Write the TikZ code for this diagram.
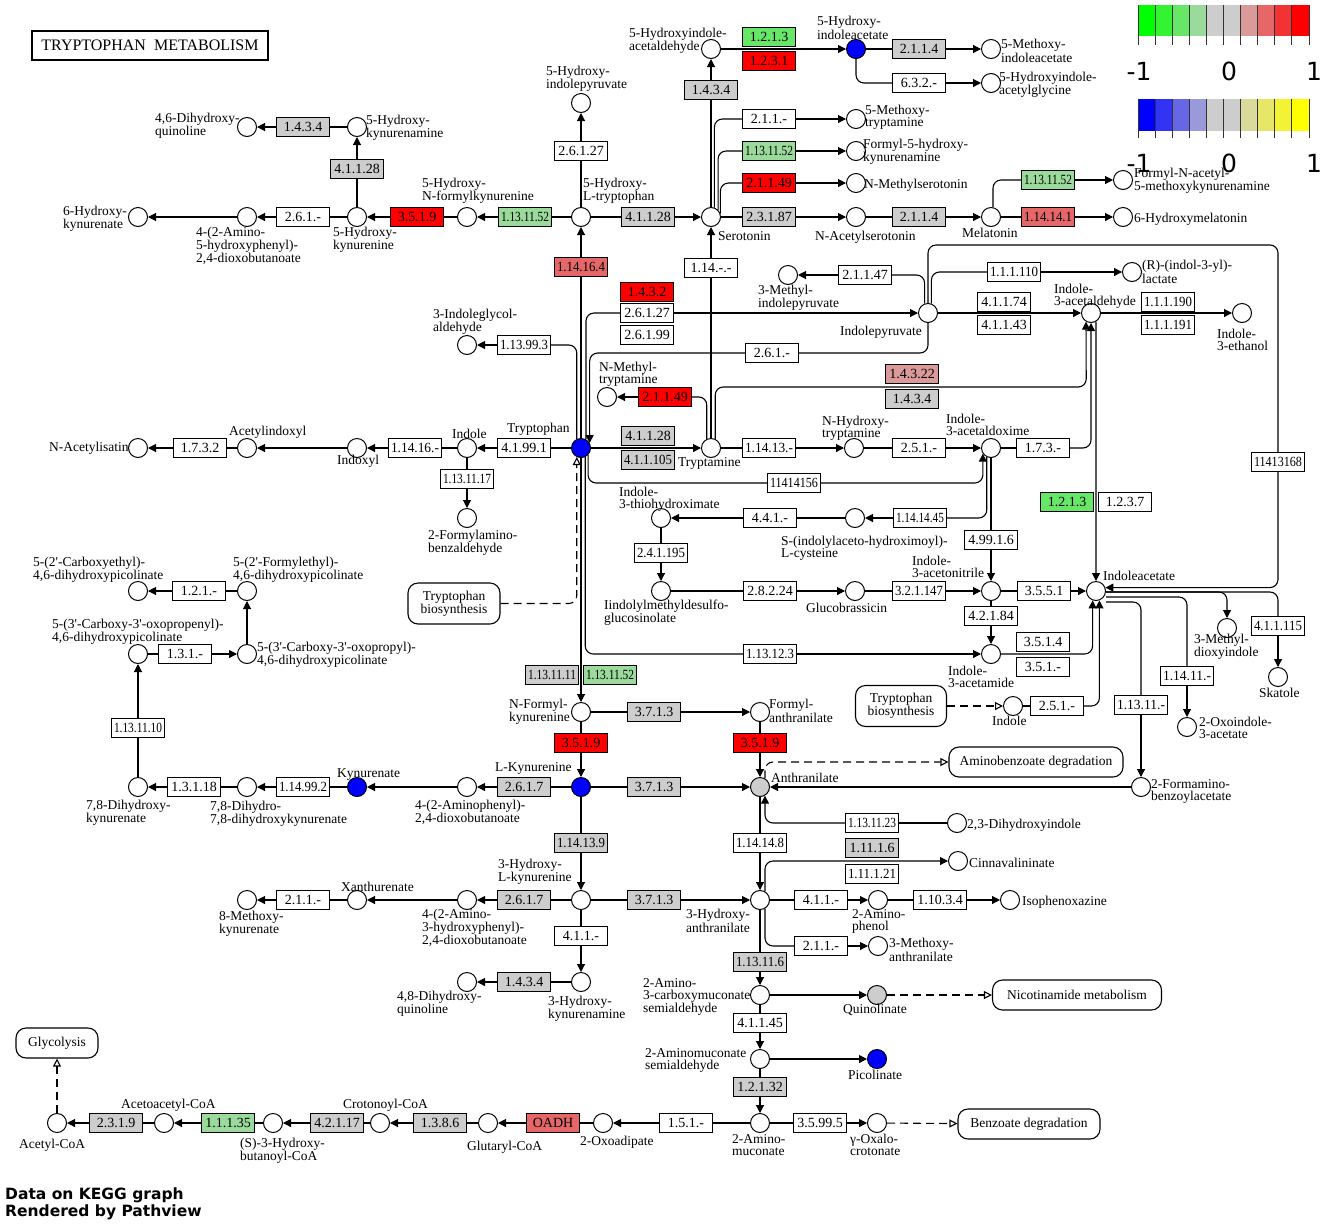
\documentclass[tikz,border=0pt]{standalone}
\usepackage{fontspec}
\setmainfont{Liberation Serif}
\newfontfamily\dejavu{DejaVu Sans}
\usepackage{graphicx}
\usetikzlibrary{arrows.meta}
\definecolor{midgray}{RGB}{205,205,205}
\definecolor{cpdblue}{RGB}{0,0,255}
\definecolor{dn4}{RGB}{0,255,0}
\definecolor{dn3}{RGB}{51,243,51}
\definecolor{dn2}{RGB}{103,230,103}
\definecolor{dn1}{RGB}{154,218,154}
\definecolor{up1}{RGB}{218,154,154}
\definecolor{up2}{RGB}{230,103,103}
\definecolor{up3}{RGB}{243,51,51}
\definecolor{up4}{RGB}{255,0,0}
\definecolor{bl4}{RGB}{0,0,255}
\definecolor{bl3}{RGB}{51,51,243}
\definecolor{bl2}{RGB}{103,103,230}
\definecolor{bl1}{RGB}{154,154,218}
\definecolor{yl1}{RGB}{218,218,154}
\definecolor{yl2}{RGB}{230,230,103}
\definecolor{yl3}{RGB}{243,243,51}
\definecolor{yl4}{RGB}{255,255,0}
\newsavebox\ecbox
\newcommand\ecfit{\ifdim\wd\ecbox>48pt\resizebox{48pt}{\ht\ecbox}{\usebox\ecbox}\else\usebox\ecbox\fi}
\newcommand\lbfont{\fontsize{13.5}{12}\selectfont}
\newcommand\ecfont{\fontsize{14}{14}\selectfont}
\newcommand\lgfont{\dejavu\fontsize{25}{25}\selectfont}
\newcommand\ftfont{\dejavu\bfseries\fontsize{15.5}{17.5}\selectfont}
\newcommand\pr{\textquotesingle}

\begin{document}
\begin{tikzpicture}[x=1pt, y=-1pt, >={Triangle[length=8pt, width=8pt]},
    cpd/.style={circle, draw, line width=1pt, fill=white, minimum size=19pt, inner sep=0pt},
    cpdb/.style={cpd, fill=cpdblue},
    cpdg/.style={cpd, fill=midgray},
    ec/.style={draw, line width=1.1pt, fill=white, minimum width=53pt, minimum height=19pt, inner sep=0pt, font=\ecfont,
      execute at begin node={\setbox\ecbox\hbox\bgroup}, execute at end node={\egroup\ecfit}},
    ecgr/.style={ec, fill=midgray},
    ecr/.style={ec, fill=up4},
    ecmr/.style={ec, fill=up2},
    ecpr/.style={ec, fill=up1},
    ecgn/.style={ec, fill=dn2},
    ecpg/.style={ec, fill=dn1},
    lab/.style={font=\lbfont, align=left, inner sep=0pt, anchor=west},
    mapbox/.style={draw, line width=1.1pt, rounded corners=10pt, font=\lbfont, align=center, inner sep=0pt},
    rxn/.style={line width=1.1pt},
    arr/.style={line width=1.1pt, ->},
    link/.style={line width=1.1pt, dash pattern=on 8pt off 5pt, -{Triangle[open, length=8pt, width=8pt]}},
    rc/.style={rounded corners=8pt}]
    \useasboundingbox (0,0) rectangle (1325,1227);
    \fill[white] (0,0) rectangle (1325,1227);

    % Title
    \node[draw, line width=2pt, minimum width=236pt, minimum height=29pt, inner sep=0pt, font=\fontsize{16}{16}\selectfont] (title) at (150,45.5) {TRYPTOPHAN\ \ METABOLISM};

    % Colour keys
    \foreach \c [count=\i from 0] in {dn4,dn3,dn2,dn1,midgray,midgray,up1,up2,up3,up4}
      \fill[\c] ({1138+17.1*\i},5) rectangle ++(17.1,31);
    \foreach \c [count=\i from 0] in {bl4,bl3,bl2,bl1,midgray,midgray,yl1,yl2,yl3,yl4}
      \fill[\c] ({1138+17.1*\i},99) rectangle ++(17.1,32);
    \foreach \i in {0,...,10} {
      \draw[line width=0.9pt, black!80] ({1138+17.1*\i},5) -- ++(0,40);
      \draw[line width=0.9pt, black!80] ({1138+17.1*\i},99) -- ++(0,39);
    }
    \node[font=\lgfont, inner sep=0pt] (kg1) at (1139,71) {-1};
    \node[font=\lgfont, inner sep=0pt] (kg2) at (1229,71) {0};
    \node[font=\lgfont, inner sep=0pt] (kg3) at (1314,71) {1};
    \node[font=\lgfont, inner sep=0pt] (kb1) at (1139,163) {-1};
    \node[font=\lgfont, inner sep=0pt] (kb2) at (1229,163) {0};
    \node[font=\lgfont, inner sep=0pt] (kb3) at (1314,163) {1};

    % Compounds
    \node[cpd] (dhq46) at (247,127) {};
    \node[cpd] (hkna5) at (357,127) {};
    \node[cpd] (hkyn5) at (357,217) {};
    \node[cpd] (ahpd5) at (247,217) {};
    \node[cpd] (hkya6) at (138,217) {};
    \node[cpd] (hfk5) at (467,217) {};
    \node[cpd] (htp5) at (581,217) {};
    \node[cpd] (hipy5) at (581,103) {};
    \node[cpd] (sero) at (711,217) {};
    \node[cpd] (hial5) at (711,49) {};
    \node[cpdb] (hiaa5) at (856,49) {};
    \node[cpd] (mia5) at (991,49) {};
    \node[cpd] (hiag5) at (991,83) {};
    \node[cpd] (mtryp5) at (856,119) {};
    \node[cpd] (fhkn) at (856,151) {};
    \node[cpd] (nmsero) at (856,183) {};
    \node[cpd] (nasero) at (856,217) {};
    \node[cpd] (mela) at (991,217) {};
    \node[cpd] (fnak) at (1123,180) {};
    \node[cpd] (hmela6) at (1123,217) {};
    \node[cpd] (mipy3) at (788,275) {};
    \node[cpd] (ipyr) at (928,313) {};
    \node[cpd] (ilac) at (1132,272) {};
    \node[cpd] (iald) at (1091,313) {};
    \node[cpd] (ieth) at (1242,313) {};
    \node[cpd] (iga) at (467,345) {};
    \node[cpd] (nmtam) at (607,397) {};
    \node[cpdb] (trp) at (581,448) {};
    \node[cpd] (indol) at (467,448) {};
    \node[cpd] (indox) at (357,448) {};
    \node[cpd] (acind) at (247,448) {};
    \node[cpd] (nais) at (138,448) {};
    \node[cpd] (fab2) at (467,518) {};
    \node[cpd] (tam) at (711,448) {};
    \node[cpd] (nht) at (854,448) {};
    \node[cpd] (iaox) at (991,448) {};
    \node[cpd] (tha) at (661,518) {};
    \node[cpd] (scys) at (855,518) {};
    \node[cpd] (idsg) at (661,591) {};
    \node[cpd] (gbr) at (855,591) {};
    \node[cpd] (iacn) at (991,591) {};
    \node[cpd] (iaa) at (1096,591) {};
    \node[cpd] (iam) at (991,654) {};
    \node[cpd] (mdi3) at (1227,628) {};
    \node[cpd] (ska) at (1278,677) {};
    \node[cpd] (oxi2) at (1187,727) {};
    \node[cpd] (indol2) at (1013,706) {};
    \node[cpd] (fba2) at (1141,787) {};
    \node[cpd] (nfk) at (581,712) {};
    \node[cpd] (fan) at (760,712) {};
    \node[cpdb] (lkyn) at (581,787) {};
    \node[cpdg] (anth) at (760,787) {};
    \node[cpd] (apd) at (467,787) {};
    \node[cpdb] (kyna) at (357,787) {};
    \node[cpd] (dhdk) at (247,787) {};
    \node[cpd] (dhk78) at (138,787) {};
    \node[cpd] (cop) at (138,654) {};
    \node[cpd] (copr) at (247,654) {};
    \node[cpd] (fed) at (247,591) {};
    \node[cpd] (ced) at (138,591) {};
    \node[cpd] (hk3) at (581,900) {};
    \node[cpd] (ahd3) at (467,900) {};
    \node[cpd] (xan) at (357,900) {};
    \node[cpd] (mk8) at (247,900) {};
    \node[cpd] (haa3) at (760,900) {};
    \node[cpd] (hkna3) at (581,982) {};
    \node[cpd] (dhq48) at (467,982) {};
    \node[cpd] (dhi23) at (957,823) {};
    \node[cpd] (cinn) at (958,861) {};
    \node[cpd] (amph) at (878,900) {};
    \node[cpd] (isoph) at (1010,900) {};
    \node[cpd] (mant3) at (878,946) {};
    \node[cpd] (acms) at (760,995) {};
    \node[cpdg] (quin) at (877,995) {};
    \node[cpd] (ams) at (760,1059) {};
    \node[cpdb] (pico) at (877,1059) {};
    \node[cpd] (am2) at (760,1123) {};
    \node[cpd] (oxc) at (877,1123) {};
    \node[cpd] (oxad) at (603,1123) {};
    \node[cpd] (glut) at (488,1123) {};
    \node[cpd] (crot) at (380,1123) {};
    \node[cpd] (hbut) at (273,1123) {};
    \node[cpd] (aacoa) at (164,1123) {};
    \node[cpd] (acoa) at (57,1123) {};

    % Enzymes
    \node[ecgr] (e1) at (303,127) {1.4.3.4};
    \node[ecgr] (e2) at (357,169) {4.1.1.28};
    \node[ec] (e3) at (303,217) {2.6.1.-};
    \node[ecr] (e4) at (417,217) {3.5.1.9};
    \node[ecpg] (e5) at (525,217) {1.13.11.52};
    \node[ec] (e6) at (581,151) {2.6.1.27};
    \node[ecmr] (e7) at (581,267) {1.14.16.4};
    \node[ecgr] (e8) at (648,217) {4.1.1.28};
    \node[ecgr] (e9) at (711,90) {1.4.3.4};
    \node[ecgn] (e10) at (769,37) {1.2.1.3};
    \node[ecr] (e11) at (769,61) {1.2.3.1};
    \node[ecgr] (e12) at (919,49) {2.1.1.4};
    \node[ec] (e13) at (919,83) {6.3.2.-};
    \node[ec] (e14) at (769,119) {2.1.1.-};
    \node[ecpg] (e15) at (769,151) {1.13.11.52};
    \node[ecr] (e16) at (769,183) {2.1.1.49};
    \node[ecgr] (e17) at (769,217) {2.3.1.87};
    \node[ec] (e18) at (711,268) {1.14.-.-};
    \node[ecgr] (e19) at (919,217) {2.1.1.4};
    \node[ecpg] (e20) at (1048,180) {1.13.11.52};
    \node[ecmr] (e21) at (1048,217) {1.14.14.1};
    \node[ec] (e22) at (865,275) {2.1.1.47};
    \node[ec] (e23) at (1014,272) {1.1.1.110};
    \node[ec] (e24) at (1004,302) {4.1.1.74};
    \node[ec] (e25) at (1004,325) {4.1.1.43};
    \node[ec] (e26) at (1168,302) {1.1.1.190};
    \node[ec] (e27) at (1168,325) {1.1.1.191};
    \node[ecr] (e28) at (647,292) {1.4.3.2};
    \node[ec] (e29) at (647,313) {2.6.1.27};
    \node[ec] (e30) at (647,335) {2.6.1.99};
    \node[ec] (e31) at (524,345) {1.13.99.3};
    \node[ec] (e32) at (772,353) {2.6.1.-};
    \node[ecr] (e33) at (665,397) {2.1.1.49};
    \node[ecpr] (e34) at (912,374) {1.4.3.22};
    \node[ecgr] (e35) at (912,399) {1.4.3.4};
    \node[ec] (e36) at (524,448) {4.1.99.1};
    \node[ec] (e37) at (415,448) {1.14.16.-};
    \node[ec] (e38) at (200,448) {1.7.3.2};
    \node[ec] (e39) at (467,479) {1.13.11.17};
    \node[ecgr] (e40) at (648,436) {4.1.1.28};
    \node[ecgr] (e41) at (648,460) {4.1.1.105};
    \node[ec] (e42) at (769,448) {1.14.13.-};
    \node[ec] (e43) at (919,448) {2.5.1.-};
    \node[ec] (e44) at (1043,448) {1.7.3.-};
    \node[ec] (e45) at (794,483) {11414156};
    \node[ec] (e46) at (1278,462) {11413168};
    \node[ecgn] (e47) at (1067,502) {1.2.1.3};
    \node[ec] (e48) at (1125,502) {1.2.3.7};
    \node[ec] (e49) at (770,518) {4.4.1.-};
    \node[ec] (e50) at (920,518) {1.14.14.45};
    \node[ec] (e51) at (991,540) {4.99.1.6};
    \node[ec] (e52) at (661,553) {2.4.1.195};
    \node[ec] (e53) at (770,591) {2.8.2.24};
    \node[ec] (e54) at (919,591) {3.2.1.147};
    \node[ec] (e55) at (1044,591) {3.5.5.1};
    \node[ec] (e56) at (991,616) {4.2.1.84};
    \node[ec] (e57) at (1043,642) {3.5.1.4};
    \node[ec] (e58) at (1043,667) {3.5.1.-};
    \node[ec] (e59) at (770,654) {1.13.12.3};
    \node[ec] (e60) at (1057,706) {2.5.1.-};
    \node[ec] (e61) at (1278,626) {4.1.1.115};
    \node[ec] (e62) at (1187,676) {1.14.11.-};
    \node[ec] (e63) at (1141,705) {1.13.11.-};
    \node[ecgr] (e64) at (552,675) {1.13.11.11};
    \node[ecpg] (e65) at (610,675) {1.13.11.52};
    \node[ecgr] (e66) at (654,712) {3.7.1.3};
    \node[ecr] (e67) at (581,743) {3.5.1.9};
    \node[ecr] (e68) at (760,743) {3.5.1.9};
    \node[ecgr] (e69) at (654,787) {3.7.1.3};
    \node[ecgr] (e70) at (524,787) {2.6.1.7};
    \node[ec] (e71) at (303,787) {1.14.99.2};
    \node[ec] (e72) at (194,787) {1.3.1.18};
    \node[ec] (e73) at (138,728) {1.13.11.10};
    \node[ec] (e74) at (185,654) {1.3.1.-};
    \node[ec] (e75) at (199,591) {1.2.1.-};
    \node[ecgr] (e76) at (581,843) {1.14.13.9};
    \node[ecgr] (e77) at (524,900) {2.6.1.7};
    \node[ec] (e78) at (303,900) {2.1.1.-};
    \node[ecgr] (e79) at (654,900) {3.7.1.3};
    \node[ec] (e80) at (581,936) {4.1.1.-};
    \node[ecgr] (e81) at (524,982) {1.4.3.4};
    \node[ec] (e82) at (760,843) {1.14.14.8};
    \node[ec] (e83) at (872,823) {1.13.11.23};
    \node[ecgr] (e84) at (872,848) {1.11.1.6};
    \node[ec] (e85) at (872,874) {1.11.1.21};
    \node[ec] (e86) at (821,900) {4.1.1.-};
    \node[ec] (e87) at (940,900) {1.10.3.4};
    \node[ec] (e88) at (821,946) {2.1.1.-};
    \node[ecgr] (e89) at (760,962) {1.13.11.6};
    \node[ec] (e90) at (760,1023) {4.1.1.45};
    \node[ecgr] (e91) at (760,1087) {1.2.1.32};
    \node[ec] (e92) at (820,1123) {3.5.99.5};
    \node[ec] (e93) at (686,1123) {1.5.1.-};
    \node[ecmr] (e94) at (553,1123) {OADH};
    \node[ecgr] (e95) at (440,1123) {1.3.8.6};
    \node[ecgr] (e96) at (337,1123) {4.2.1.17};
    \node[ecpg] (e97) at (228,1123) {1.1.1.35};
    \node[ecgr] (e98) at (116,1123) {2.3.1.9};

    % Other maps
    \node[mapbox, minimum width=92pt, minimum height=41pt] (tbio1) at (454,603.5) {Tryptophan\\biosynthesis};
    \node[mapbox, minimum width=91pt, minimum height=41pt] (tbio2) at (901,706) {Tryptophan\\biosynthesis};
    \node[mapbox, minimum width=174pt, minimum height=30pt] (abdeg) at (1036,762) {Aminobenzoate degradation};
    \node[mapbox, minimum width=169pt, minimum height=30pt] (nicm) at (1077,995) {Nicotinamide metabolism};
    \node[mapbox, minimum width=142pt, minimum height=30pt] (bzdeg) at (1029,1124) {Benzoate degradation};
    \node[mapbox, minimum width=82pt, minimum height=30pt] (glyc) at (57,1043) {Glycolysis};

    \coordinate (lp) at (1278,245);
    \coordinate (k1) at (1086.25,387);

    % 5-hydroxykynurenine side
    \draw[rxn] (hkna5) -- (e1); \draw[arr] (e1) -- (dhq46);
    \draw[rxn] (hkyn5) -- (e2); \draw[arr] (e2) -- (hkna5);
    \draw[rxn] (hkyn5) -- (e3); \draw[arr] (e3) -- (ahpd5);
    \draw[arr] (ahpd5) -- (hkya6);
    \draw[rxn] (hfk5) -- (e4); \draw[arr] (e4) -- (hkyn5);
    \draw[rxn] (htp5) -- (e5); \draw[arr] (e5) -- (hfk5);
    \draw[rxn] (htp5) -- (e6); \draw[arr] (e6) -- (hipy5);
    \draw[rxn] (trp) -- (e7); \draw[arr] (e7) -- (htp5);
    \draw[rxn] (htp5) -- (e8); \draw[arr] (e8) -- (sero);

    % Serotonin, melatonin
    \draw[rxn] (sero) -- (e9); \draw[arr] (e9) -- (hial5);
    \draw[arr] (hial5) -- (hiaa5);
    \draw[rxn] (hiaa5) -- (e12); \draw[arr] (e12) -- (mia5);
    \draw[rxn, rc] (hiaa5.south) |- (e13.west); \draw[arr] (e13) -- (hiag5);
    \draw[rxn, rc] (sero.70) |- (e14.west); \draw[arr] (e14) -- (mtryp5);
    \draw[rxn, rc] (sero.45) |- (e15.west); \draw[arr] (e15) -- (fhkn);
    \draw[rxn, rc] (sero.20) |- (e16.west); \draw[arr] (e16) -- (nmsero);
    \draw[rxn] (sero) -- (e17); \draw[arr] (e17) -- (nasero);
    \draw[rxn] (tam) -- (e18); \draw[arr] (e18) -- (sero);
    \draw[rxn] (nasero) -- (e19); \draw[arr] (e19) -- (mela);
    \draw[rxn, rc] ([xshift=2pt]mela.north) |- (e20.west); \draw[arr] (e20) -- (fnak);
    \draw[rxn] (mela) -- (e21); \draw[arr] (e21) -- (hmela6);

    % Indolepyruvate
    \draw[rxn, rc] (ipyr.110) |- (e22.east); \draw[arr] (e22) -- (mipy3);
    \draw[rxn, rc] (ipyr.70) |- (e23.west); \draw[arr] (e23) -- (ilac);
    \draw[rxn, rc] (ipyr.north) |- (lp) -- (e46.north);
    \draw[arr, rc] (e46.south) |- (iaa.20);
    \draw[arr] (ipyr) -- (iald);
    \draw[arr] (iald) -- (ieth);
    \draw[rxn, rc] (trp.60) |- (e29.west); \draw[arr] (e29) -- (ipyr);
    \draw[rxn, rc] (ipyr.south) |- (e32.east); \draw[arr, rc] (e32.west) -| (trp.30);
    \draw[rxn, rc] (trp.115) |- (e31.east); \draw[arr] (e31) -- (iga);

    % Tryptamine
    \draw[arr] (trp) -- (tam);
    \draw[rxn, rc] (tam.115) |- (e33.east); \draw[arr] (e33) -- (nmtam);
    \draw[arr, rc] (tam.65) |- (k1) -- (iald.-120);
    \draw[rxn] (tam) -- (e42); \draw[arr] (e42) -- (nht);
    \draw[rxn] (nht) -- (e43); \draw[arr] (e43) -- (iaox);
    \draw[rxn] (iaox) -- (e44); \draw[arr, rc] (e44.east) -| (iald.south);
    \draw[arr] (iald.-60) -- (iaa.north);

    % Indole
    \draw[rxn] (trp) -- (e36); \draw[arr] (e36) -- (indol);
    \draw[rxn] (indol) -- (e37); \draw[arr] (e37) -- (indox);
    \draw[arr] (indox) -- (acind);
    \draw[rxn] (acind) -- (e38); \draw[arr] (e38) -- (nais);
    \draw[rxn] (indol) -- (e39); \draw[arr] (e39) -- (fab2);
    \draw[link, rc] (tbio1.east) -| (trp.245);

    % Acetaldoxime, glucosinolates, indoleacetate
    \draw[rxn, rc] (trp.315) |- (e45.west); \draw[arr, rc] (e45.east) -| (iaox.215);
    \draw[rxn, rc] (iaox.245) |- (e50.east); \draw[arr] (e50) -- (scys);
    \draw[rxn] (scys) -- (e49); \draw[arr] (e49) -- (tha);
    \draw[rxn] (tha) -- (e52); \draw[arr] (e52) -- (idsg);
    \draw[rxn] (idsg) -- (e53); \draw[arr] (e53) -- (gbr);
    \draw[rxn] (gbr) -- (e54); \draw[arr] (e54) -- (iacn);
    \draw[rxn] (iaox) -- (e51); \draw[arr] (e51) -- (iacn);
    \draw[rxn] (iacn) -- (e55); \draw[arr] (e55) -- (iaa);
    \draw[rxn] (iacn) -- (e56); \draw[arr] (e56) -- (iam);
    \draw[rxn, rc] (trp.295) |- (e59.west); \draw[arr] (e59) -- (iam);
    \draw[arr, rc] (iam.east) -| (iaa.-110);
    \draw[link] (tbio2) -- (indol2);
    \draw[rxn] (indol2) -- (e60); \draw[arr, rc] (e60.east) -| (iaa.-70);
    \draw[rxn, rc] ([yshift=-1pt]iaa.east) -| (e61.north); \draw[arr] (e61) -- (ska);
    \draw[arr, rc] ([yshift=-1pt]iaa.east) -| (mdi3.north);
    \draw[rxn, rc] ([yshift=-6pt]iaa.east) -| (e62.north); \draw[arr] (e62) -- (oxi2);
    \draw[rxn, rc] ([yshift=-11pt]iaa.east) -| (e63.north); \draw[arr] (e63) -- (fba2);
    \draw[arr] (fba2) -- (anth);
    \draw[link, rc] (anth.60) |- (abdeg.west);

    % Kynurenine
    \draw[arr] (trp) -- (nfk);
    \draw[rxn] (nfk) -- (e66); \draw[arr] (e66) -- (fan);
    \draw[rxn] (nfk) -- (e67); \draw[arr] (e67) -- (lkyn);
    \draw[rxn] (fan) -- (e68); \draw[arr] (e68) -- (anth);
    \draw[rxn] (lkyn) -- (e69); \draw[arr] (e69) -- (anth);
    \draw[rxn] (lkyn) -- (e70); \draw[arr] (e70) -- (apd);
    \draw[arr] (apd) -- (kyna);
    \draw[rxn] (kyna) -- (e71); \draw[arr] (e71) -- (dhdk);
    \draw[rxn] (dhdk) -- (e72); \draw[arr] (e72) -- (dhk78);
    \draw[rxn] (dhk78) -- (e73); \draw[arr] (e73) -- (cop);
    \draw[rxn] (cop) -- (e74); \draw[arr] (e74) -- (copr);
    \draw[arr] (copr) -- (fed);
    \draw[rxn] (fed) -- (e75); \draw[arr] (e75) -- (ced);
    \draw[rxn] (lkyn) -- (e76); \draw[arr] (e76) -- (hk3);
    \draw[rxn] (hk3) -- (e77); \draw[arr] (e77) -- (ahd3);
    \draw[arr] (ahd3) -- (xan);
    \draw[rxn] (xan) -- (e78); \draw[arr] (e78) -- (mk8);
    \draw[rxn] (hk3) -- (e79); \draw[arr] (e79) -- (haa3);
    \draw[rxn] (hk3) -- (e80); \draw[arr] (e80) -- (hkna3);
    \draw[rxn] (hkna3) -- (e81); \draw[arr] (e81) -- (dhq48);

    % Anthranilate, 3-hydroxyanthranilate
    \draw[rxn] (anth) -- (e82); \draw[arr] (e82) -- (haa3);
    \draw[rxn] (dhi23) -- (e83); \draw[arr, rc] (e83.west) -| (anth.-60);
    \draw[arr, rc] (haa3.60) |- (cinn.west);
    \draw[rxn] (haa3) -- (e86); \draw[arr] (e86) -- (amph);
    \draw[rxn] (amph) -- (e87); \draw[arr] (e87) -- (isoph);
    \draw[rxn, rc] (haa3.-60) |- (e88.west); \draw[arr] (e88) -- (mant3);
    \draw[rxn] (haa3) -- (e89); \draw[arr] (e89) -- (acms);
    \draw[arr] (acms) -- (quin);
    \draw[link] (quin) -- (nicm);
    \draw[rxn] (acms) -- (e90); \draw[arr] (e90) -- (ams);
    \draw[arr] (ams) -- (pico);
    \draw[rxn] (ams) -- (e91); \draw[arr] (e91) -- (am2);
    \draw[rxn] (am2) -- (e92); \draw[arr] (e92) -- (oxc);
    \draw[link] (oxc) -- (bzdeg);

    % Glutaryl-CoA to acetyl-CoA
    \draw[rxn] (am2) -- (e93); \draw[arr] (e93) -- (oxad);
    \draw[rxn] (oxad) -- (e94); \draw[arr] (e94) -- (glut);
    \draw[rxn] (glut) -- (e95); \draw[arr] (e95) -- (crot);
    \draw[rxn] (crot) -- (e96); \draw[arr] (e96) -- (hbut);
    \draw[rxn] (hbut) -- (e97); \draw[arr] (e97) -- (aacoa);
    \draw[rxn] (aacoa) -- (e98); \draw[arr] (e98) -- (acoa);
    \draw[link] (acoa) -- (glyc);

    % Compound names
    \node[lab] (l-dhq46) at (155,126) {4,6-Dihydroxy-\\quinoline};
    \node[lab] (l-hkna5) at (366,128) {5-Hydroxy-\\kynurenamine};
    \node[lab] (l-hkya6) at (63,219) {6-Hydroxy-\\kynurenate};
    \node[lab] (l-ahpd5) at (196,246) {4-(2-Amino-\\5-hydroxyphenyl)-\\2,4-dioxobutanoate};
    \node[lab] (l-hkyn5) at (333,240) {5-Hydroxy-\\kynurenine};
    \node[lab] (l-hfk5) at (422,191) {5-Hydroxy-\\N-formylkynurenine};
    \node[lab] (l-htp5) at (583,191) {5-Hydroxy-\\L-tryptophan};
    \node[lab] (l-hipy5) at (546,79) {5-Hydroxy-\\indolepyruvate};
    \node[lab] (l-hial5) at (629,41) {5-Hydroxyindole-\\acetaldehyde};
    \node[lab] (l-hiaa5) at (817,28) {5-Hydroxy-\\indoleacetate};
    \node[lab] (l-sero) at (718,236) {Serotonin};
    \node[lab] (l-iga) at (433,322) {3-Indoleglycol-\\aldehyde};
    \node[lab] (l-nmtam) at (599,374) {N-Methyl-\\tryptamine};
    \node[lab] (l-mipy3) at (758,298) {3-Methyl-\\indolepyruvate};
    \node[lab] (l-ipyr) at (840,332) {Indolepyruvate};
    \node[lab] (l-mia5) at (1001,51) {5-Methoxy-\\indoleacetate};
    \node[lab] (l-hiag5) at (999,85) {5-Hydroxyindole-\\acetylglycine};
    \node[lab] (l-mtryp5) at (865,117) {5-Methoxy-\\tryptamine};
    \node[lab] (l-fhkn) at (863,152) {Formyl-5-hydroxy-\\kynurenamine};
    \node[lab] (l-nmsero) at (864,185) {N-Methylserotonin};
    \node[lab] (l-nasero) at (815,237) {N-Acetylserotonin};
    \node[lab] (l-mela) at (962,233) {Melatonin};
    \node[lab] (l-fnak) at (1134,181) {Formyl-N-acetyl-\\5-methoxykynurenamine};
    \node[lab] (l-hmela6) at (1134,219) {6-Hydroxymelatonin};
    \node[lab] (l-ilac) at (1142,272) {(R)-(indol-3-yl)-\\lactate};
    \node[lab] (l-iald) at (1054,296) {Indole-\\3-acetaldehyde};
    \node[lab] (l-ieth) at (1217,340) {Indole-\\3-ethanol};
    \node[lab] (l-nais) at (49,448) {N-Acetylisatin};
    \node[lab] (l-acind) at (229,432) {Acetylindoxyl};
    \node[lab] (l-indox) at (337,461) {Indoxyl};
    \node[lab] (l-ced) at (33,570) {5-(2\pr-Carboxyethyl)-\\4,6-dihydroxypicolinate};
    \node[lab] (l-fed) at (233,570) {5-(2\pr-Formylethyl)-\\4,6-dihydroxypicolinate};
    \node[lab] (l-cop) at (52,632) {5-(3\pr-Carboxy-3\pr-oxopropenyl)-\\4,6-dihydroxypicolinate};
    \node[lab] (l-copr) at (257,655) {5-(3\pr-Carboxy-3\pr-oxopropyl)-\\4,6-dihydroxypicolinate};
    \node[lab] (l-kyna) at (337,775) {Kynurenate};
    \node[lab] (l-dhk78) at (86,813) {7,8-Dihydroxy-\\kynurenate};
    \node[lab] (l-dhdk) at (210,814) {7,8-Dihydro-\\7,8-dihydroxykynurenate};
    \node[lab] (l-trp) at (507,429) {Tryptophan};
    \node[lab] (l-indol) at (452,434) {Indole};
    \node[lab] (l-fab2) at (428,543) {2-Formylamino-\\benzaldehyde};
    \node[lab] (l-tam) at (678,463) {Tryptamine};
    \node[lab] (l-tha) at (619,499) {Indole-\\3-thiohydroximate};
    \node[lab] (l-idsg) at (604,613) {Iindolylmethyldesulfo-\\glucosinolate};
    \node[lab] (l-nfk) at (509,712) {N-Formyl-\\kynurenine};
    \node[lab] (l-fan) at (769,711) {Formyl-\\anthranilate};
    \node[lab] (l-lkyn) at (495,768) {L-Kynurenine};
    \node[lab] (l-anth) at (771,778) {Anthranilate};
    \node[lab] (l-apd) at (415,812) {4-(2-Aminophenyl)-\\2,4-dioxobutanoate};
    \node[lab] (l-nht) at (822,428) {N-Hydroxy-\\tryptamine};
    \node[lab] (l-iaox) at (946,425) {Indole-\\3-acetaldoxime};
    \node[lab] (l-scys) at (781,548) {S-(indolylaceto-hydroximoyl)-\\L-cysteine};
    \node[lab] (l-gbr) at (806,608) {Glucobrassicin};
    \node[lab] (l-iacn) at (912,567) {Indole-\\3-acetonitrile};
    \node[lab] (l-iaa) at (1103,576) {Indoleacetate};
    \node[lab] (l-iam) at (948,677) {Indole-\\3-acetamide};
    \node[lab] (l-mdi3) at (1194,647) {3-Methyl-\\dioxyindole};
    \node[lab] (l-ska) at (1259,693) {Skatole};
    \node[lab] (l-oxi2) at (1199,728) {2-Oxoindole-\\3-acetate};
    \node[lab] (l-indol2) at (992,721) {Indole};
    \node[lab] (l-fba2) at (1151,791) {2-Formamino-\\benzoylacetate};
    \node[lab] (l-hk3) at (498,872) {3-Hydroxy-\\L-kynurenine};
    \node[lab] (l-ahd3) at (422,928) {4-(2-Amino-\\3-hydroxyphenyl)-\\2,4-dioxobutanoate};
    \node[lab] (l-haa3) at (686,921) {3-Hydroxy-\\anthranilate};
    \node[lab] (l-hkna3) at (548,1009) {3-Hydroxy-\\kynurenamine};
    \node[lab] (l-dhq48) at (397,1004) {4,8-Dihydroxy-\\quinoline};
    \node[lab] (l-acms) at (643,997) {2-Amino-\\3-carboxymuconate\\semialdehyde};
    \node[lab] (l-ams) at (645,1060) {2-Aminomuconate\\semialdehyde};
    \node[lab] (l-am2) at (732,1145) {2-Amino-\\muconate};
    \node[lab] (l-oxad) at (580,1142) {2-Oxoadipate};
    \node[lab] (l-glut) at (467,1147) {Glutaryl-CoA};
    \node[lab] (l-xan) at (341,887) {Xanthurenate};
    \node[lab] (l-mk8) at (219,924) {8-Methoxy-\\kynurenate};
    \node[lab] (l-aacoa) at (121,1105) {Acetoacetyl-CoA};
    \node[lab] (l-crot) at (343,1105) {Crotonoyl-CoA};
    \node[lab] (l-acoa) at (19,1145) {Acetyl-CoA};
    \node[lab] (l-hbut) at (240,1151) {(S)-3-Hydroxy-\\butanoyl-CoA};
    \node[lab] (l-dhi23) at (967,825) {2,3-Dihydroxyindole};
    \node[lab] (l-cinn) at (969,863) {Cinnavalininate};
    \node[lab] (l-amph) at (852,921) {2-Amino-\\phenol};
    \node[lab] (l-isoph) at (1022,902) {Isophenoxazine};
    \node[lab] (l-mant3) at (889,950) {3-Methoxy-\\anthranilate};
    \node[lab] (l-quin) at (843,1010) {Quinolinate};
    \node[lab] (l-pico) at (848,1075) {Picolinate};
    \node[lab] (l-oxc) at (850,1145) {γ-Oxalo-\\crotonate};

    % Footer
    \node[font=\ftfont, align=left, inner sep=0pt, anchor=west] (foot) at (5,1204) {Data on KEGG graph\\Rendered by Pathview};
\end{tikzpicture}
\end{document}
